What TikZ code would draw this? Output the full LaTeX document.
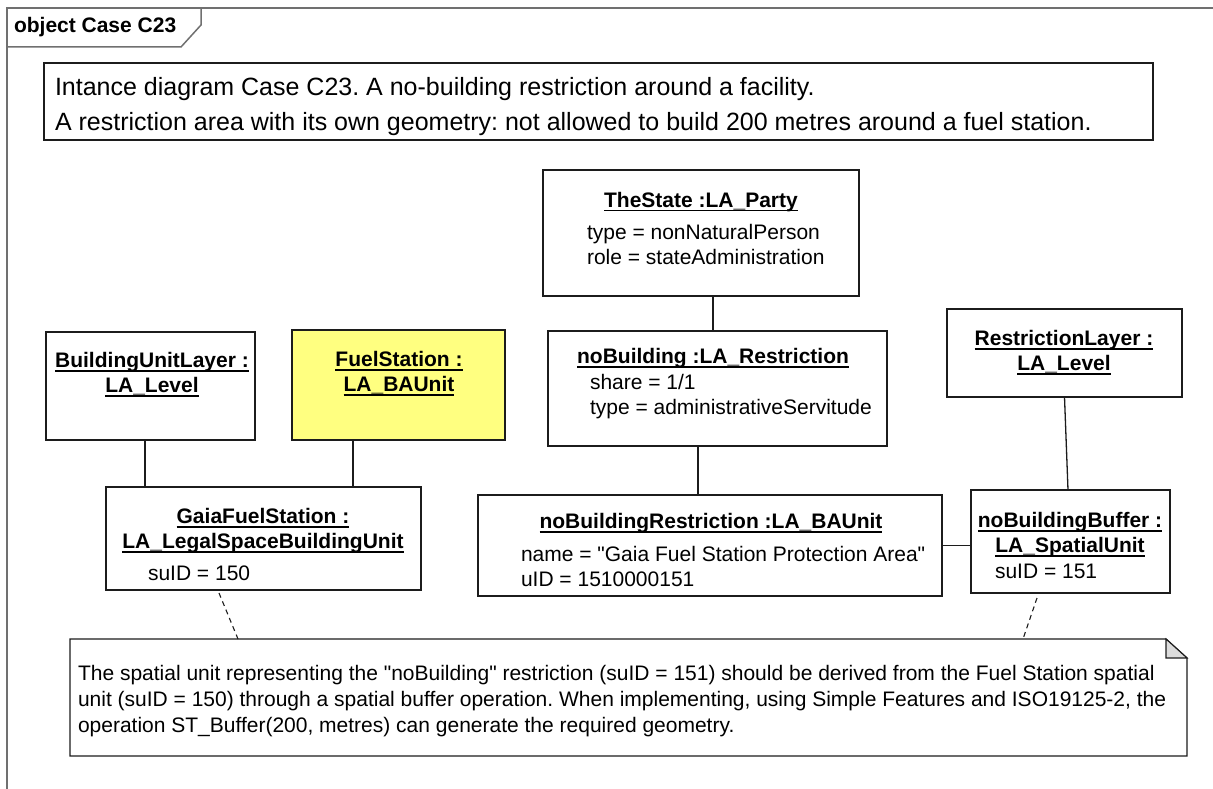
\documentclass[tikz,border=0pt]{standalone}
\usepackage{fontspec}
\setmainfont{Liberation Sans}[Ligatures=TeXOff]
\usepackage{xcolor}
\usepackage{tikz}
\usetikzlibrary{positioning}

\definecolor{objyellow}{RGB}{255,255,128}
\definecolor{inkgray}{RGB}{28,28,28}
\definecolor{framegray}{RGB}{112,112,112}
\definecolor{foldgray}{RGB}{220,220,220}

\newsavebox\ulinebox
\newcommand{\objul}[1]{\sbox\ulinebox{#1}\rlap{\rule[-4.5pt]{\wd\ulinebox}{1.2pt}}\usebox\ulinebox}
\frenchspacing

\begin{document}
\begin{tikzpicture}[
    x=1pt, y=-1pt,
    every node/.style={inner sep=0pt, outer sep=0pt, font=\fontsize{21}{25}\selectfont},
    objbox/.style={
        rectangle, draw=inkgray, line width=1.3pt, fill=white, anchor=north west
    },
    objname/.style={font=\fontsize{21}{25}\selectfont\bfseries, align=center, anchor=base},
    objattr/.style={align=left, anchor=base west},
    link/.style={draw=inkgray, line width=1.3pt},
    notelink/.style={draw=inkgray, line width=1.1pt, dash pattern=on 5pt off 4pt}
]
\useasboundingbox (0,0) rectangle (1213,789);

% Frame
\draw[framegray, line width=1.5pt] (7,789) -- (7,8) -- (1213,8);
\draw[framegray, line width=1.5pt] (7,47) -- (181,47) -- (201,25) -- (201,8);
\node[font=\fontsize{21}{25}\selectfont\bfseries, anchor=base west] (frametitle) at (14,33) {object Case C23};

% Intro note (base = last line)
\node[objbox, minimum width=1109pt, minimum height=77pt] (intro) at (44,63) {};
\node[font=\fontsize{25}{35}\selectfont, align=left, anchor=base west] (intro-text) at (55,130.5) {
    Intance diagram Case C23. A no-building restriction around a facility.\\
    A restriction area with its own geometry: not allowed to build 200 metres around a fuel station.
};

% Row 1
\node[objbox, minimum width=316pt, minimum height=126pt] (state) at (543,170) {};
\node[objname] (state-name) at (701,207) {\objul{TheState :LA\_Party}};
\node[objattr] (state-attr) at (587,264) {type = nonNaturalPerson\\role = stateAdministration};

% Row 2
\node[objbox, minimum width=209pt, minimum height=108pt] (bul) at (46,332) {};
\node[objname] (bul-name) at (152,392) {\objul{BuildingUnitLayer :}\\\objul{LA\_Level}};
\node[objbox, fill=objyellow, minimum width=213pt, minimum height=110pt] (fs) at (292,330) {};
\node[objname] (fs-name) at (399,391) {\objul{FuelStation :}\\\objul{LA\_BAUnit}};
\node[objbox, minimum width=339pt, minimum height=115pt] (nb) at (548,331) {};
\node[objname] (nb-name) at (713,363) {\objul{noBuilding :LA\_Restriction}};
\node[objattr] (nb-attr) at (590,414) {share = 1/1\\type = administrativeServitude};
\node[objbox, minimum width=235pt, minimum height=88pt] (rl) at (947,309) {};
\node[objname] (rl-name) at (1064,370) {\objul{RestrictionLayer :}\\\objul{LA\_Level}};

% Row 3
\node[objbox, minimum width=315pt, minimum height=103pt] (gfs) at (106,487) {};
\node[objname] (gfs-name) at (263,548) {\objul{GaiaFuelStation :}\\\objul{LA\_LegalSpaceBuildingUnit}};
\node[objattr] (gfs-attr) at (148,580) {suID = 150};
\node[objbox, minimum width=464pt, minimum height=101pt] (nbr) at (478,495) {};
\node[objname] (nbr-name) at (711,528) {\objul{noBuildingRestriction :LA\_BAUnit}};
\node[objattr] (nbr-attr) at (521,586) {name = "Gaia Fuel Station Protection Area"\\uID = 1510000151};
\node[objbox, minimum width=199pt, minimum height=103pt] (nbb) at (971,490) {};
\node[objname] (nbb-name) at (1070,552) {\objul{noBuildingBuffer :}\\\objul{LA\_SpatialUnit}};
\node[objattr] (nbb-attr) at (995,578) {suID = 151};

% Comment
\node[anchor=north west, minimum width=1117pt, minimum height=117pt] (note) at (70,639) {};
\draw[inkgray, line width=1.3pt, fill=white] (note.north west) -- ([xshift=-21pt]note.north east)
    -- ([yshift=-19pt]note.north east) -- (note.south east) -- (note.south west) -- cycle;
\draw[inkgray, line width=1.1pt, fill=foldgray] ([xshift=-21pt]note.north east)
    -- ([xshift=-21pt, yshift=-19pt]note.north east) -- ([yshift=-19pt]note.north east) -- cycle;
\node[font=\fontsize{21}{26}\selectfont, align=left, anchor=base west] (note-text) at (78,732) {
    The spatial unit representing the "noBuilding" restriction (suID = 151) should be derived from the Fuel Station spatial\\
    unit (suID = 150) through a spatial buffer operation. When implementing, using Simple Features and ISO19125-2, the\\
    operation ST\_Buffer(200, metres) can generate the required geometry.
};

% Links
\draw[link] ([xshift=-5.5pt]bul.south) -- ([xshift=-5.5pt]bul.south |- gfs.north);
\draw[link] ([xshift=-45.5pt]fs.south) -- ([xshift=-45.5pt]fs.south |- gfs.north);
\draw[link] ([xshift=12pt]state.south) -- ([xshift=12pt]state.south |- nb.north);
\draw[link] ([xshift=-19.5pt]nb.south) -- ([xshift=-19.5pt]nb.south |- nbr.north);
\draw[link] (nbr.east) -- (nbr.east -| nbb.west);
\draw[link] (rl.south) -- ([xshift=-2.5pt]nbb.north);
\draw[notelink] ([xshift=-44.5pt, yshift=-3pt]gfs.south) -- ([xshift=168pt]note.north west);
\draw[notelink] ([xshift=-33.5pt, yshift=-5pt]nbb.south) -- ([xshift=953pt]note.north west);

\end{tikzpicture}
\end{document}
